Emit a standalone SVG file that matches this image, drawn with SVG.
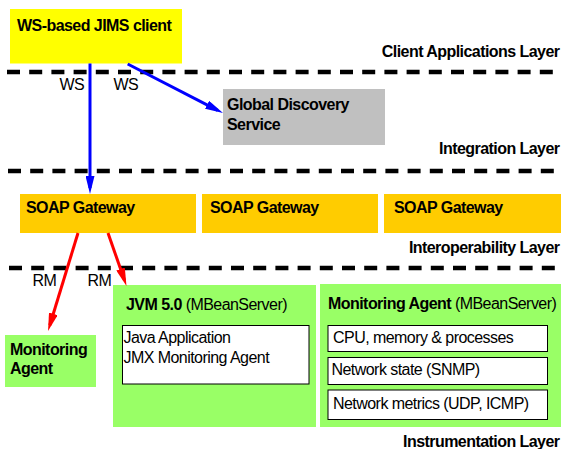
<svg xmlns="http://www.w3.org/2000/svg" width="561" height="449" viewBox="0 0 561 449">
<style>
text{font-family:"Liberation Sans",Arial,sans-serif;font-size:16px;letter-spacing:-0.55px;fill:#000}
.b{font-weight:bold}
.lay{font-weight:bold;text-anchor:end}
.dash{stroke:#000;stroke-width:4.5;stroke-dasharray:13 9.2;fill:none}
.inner{fill:#fff;stroke:#000;stroke-width:1}
.blue{stroke:#0000ff;stroke-width:3;fill:none;marker-end:url(#ab)}
.red{stroke:#ff0000;stroke-width:3;fill:none;marker-end:url(#ar)}
</style>
<defs>
<marker id="ab" markerUnits="userSpaceOnUse" markerWidth="18" markerHeight="9" refX="12" refY="4.5" orient="auto" viewBox="0 0 18 9"><path d="M0,0 L18,4.5 L0,9 z" fill="#0000ff"/></marker>
<marker id="ar" markerUnits="userSpaceOnUse" markerWidth="18" markerHeight="9" refX="12" refY="4.5" orient="auto" viewBox="0 0 18 9"><path d="M0,0 L18,4.5 L0,9 z" fill="#ff0000"/></marker>
</defs>
<rect width="561" height="449" fill="#fff"/>
<g id="layers">
<line class="dash" x1="7" y1="72" x2="561" y2="72"/>
<line class="dash" x1="8" y1="171" x2="561" y2="171"/>
<line class="dash" x1="9" y1="268" x2="561" y2="268"/>
<text class="lay" x="559.5" y="56.5">Client Applications Layer</text>
<text class="lay" x="559.5" y="154">Integration Layer</text>
<text class="lay" x="559.5" y="253">Interoperability Layer</text>
<text class="lay" x="559.5" y="447">Instrumentation Layer</text>
</g>
<g id="client">
<rect x="10" y="9" width="172" height="54.5" fill="#ffff00"/>
<text class="b" x="17" y="30.5">WS-based JIMS client</text>
</g>
<g id="discovery">
<rect x="223" y="89" width="162" height="56" fill="#c0c0c0"/>
<text class="b" x="227" y="110">Global Discovery</text>
<text class="b" x="227" y="130">Service</text>
</g>
<g id="soap1">
<rect x="20" y="194" width="176" height="39" fill="#ffcc00"/>
<text class="b" x="26" y="212.5">SOAP Gateway</text>
</g>
<g id="soap2">
<rect x="202" y="194" width="176" height="39" fill="#ffcc00"/>
<text class="b" x="210" y="212.5">SOAP Gateway</text>
</g>
<g id="soap3">
<rect x="384" y="194" width="177" height="39" fill="#ffcc00"/>
<text class="b" x="394" y="212.5">SOAP Gateway</text>
</g>
<g id="monitor-left">
<rect x="5" y="335" width="91" height="52" fill="#99ff66"/>
<text class="b" x="10" y="355">Monitoring</text>
<text class="b" x="10" y="374">Agent</text>
</g>
<g id="jvm">
<rect x="113" y="285" width="203" height="142" fill="#99ff66"/>
<text x="126" y="310"><tspan class="b">JVM 5.0</tspan> (MBeanServer)</text>
<rect class="inner" x="122.5" y="325.5" width="186.5" height="58.5"/>
<text x="123.5" y="343">Java Application</text>
<text x="123.5" y="363">JMX Monitoring Agent</text>
</g>
<g id="monitor-right">
<rect x="320" y="284" width="241" height="143" fill="#99ff66"/>
<text x="328" y="308.5"><tspan class="b">Monitoring Agent</tspan> (MBeanServer)</text>
<rect class="inner" x="328" y="325.5" width="219.5" height="26"/>
<text x="333" y="343">CPU, memory &amp; processes</text>
<rect class="inner" x="328" y="357.5" width="219.5" height="27"/>
<text x="331.5" y="375">Network state (SNMP)</text>
<rect class="inner" x="328" y="390" width="219.5" height="29.5"/>
<text x="333" y="408.5">Network metrics (UDP, ICMP)</text>
</g>
<g id="connectors">
<line class="blue" x1="90" y1="63.5" x2="90" y2="188"/>
<line class="blue" x1="127.7" y1="64" x2="217.7" y2="110.3"/>
<line class="red" x1="78" y1="233" x2="49.8" y2="325.3"/>
<line class="red" x1="108" y1="233" x2="124.5" y2="280.3"/>
<text x="59.5" y="90">WS</text>
<text x="113.5" y="90">WS</text>
<text x="32.5" y="286">RM</text>
<text x="87.5" y="286">RM</text>
</g>
</svg>
